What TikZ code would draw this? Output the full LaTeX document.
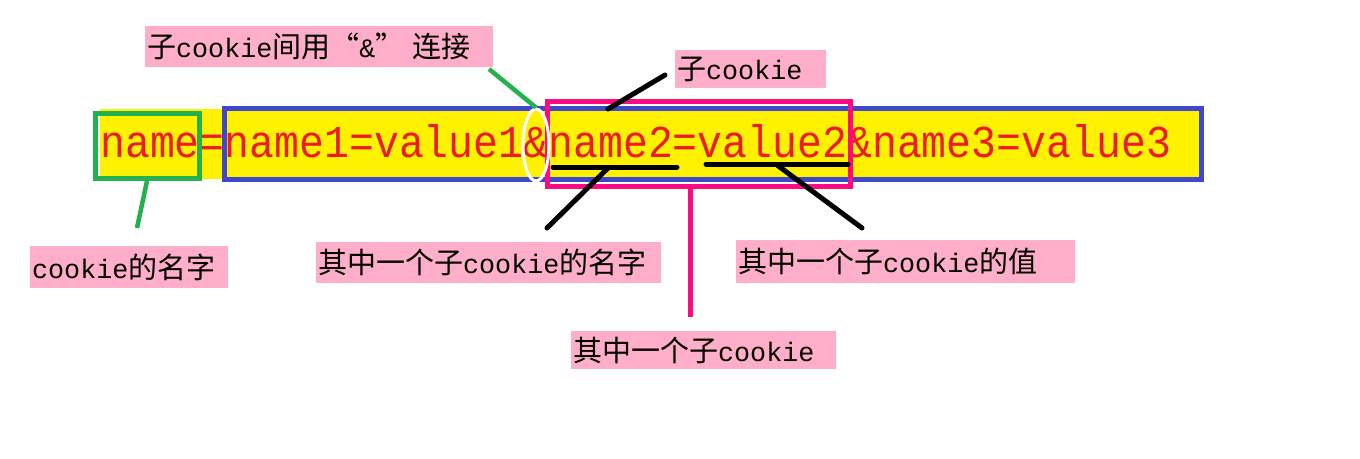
\documentclass[tikz,border=0pt]{standalone}
\usepackage{fontspec}
\usetikzlibrary{shapes.geometric}
\newfontfamily\cjk{Noto Sans CJK SC}
\newfontfamily\mono{Liberation Mono}
\definecolor{paintred}{HTML}{ED1C24}
\definecolor{hlyellow}{HTML}{FFF200}
\definecolor{paintblue}{HTML}{3F48CC}
\definecolor{paintgreen}{HTML}{22B14C}
\definecolor{hotpink}{HTML}{FF0A80}
\definecolor{rosepink}{HTML}{FFAEC9}
\newcommand\zh[1]{{\cjk\fontsize{29}{32}\selectfont #1}}
\newcommand\en[1]{{\mono\fontsize{26.7}{32}\selectfont #1}}
\tikzset{
	lbl/.style={fill=rosepink, anchor=north west, inner xsep=2pt, inner ysep=0pt, align=left},
	hibox/.style={draw=#1, line width=5pt, inner sep=0pt},
	gline/.style={draw=paintgreen, line width=4.5pt},
	bline/.style={draw=black, line width=5pt, line cap=round},
	mline/.style={draw=hotpink, line width=5pt},
}
\begin{document}
\begin{tikzpicture}[x=1pt,y=-1pt]
	\useasboundingbox [fill=white] (0,0) rectangle (1360,458);
	\fill [hlyellow] (100,109) rectangle (1200,179);
	\node [anchor=base west, inner sep=0pt, text=paintred, font=\mono\fontsize{41.5}{45}\selectfont] (str) at (100,157)
		{\scalebox{1}[1.1]{name=name1=value1\&name2=value2\&name3=value3}};
	\node [hibox=paintgreen, minimum width=104pt, minimum height=65.5pt] (nameBox) at (147,145.75) {};
	\node [hibox=paintblue, minimum width=977pt, minimum height=71pt] (valBox) at (713,144) {};
	\node [hibox=hotpink, minimum width=303.5pt, minimum height=84.5pt] (subFrame) at (698.75,143.75) {};
	\node [draw=white, line width=3pt, ellipse, minimum width=26pt, minimum height=72pt, inner sep=0pt] (ampRing) at (536,145) {};
	\draw [bline] (553,167) -- (677,167);
	\draw [bline] (706,164) -- (848,164);

	\node [lbl, text width=344pt, minimum height=41pt] (lblAmp) at (145,26)
		{\zh{子}\en{cookie}\zh{间用“}\en{\&}\zh{”\hspace{8pt}连接}};
	\node [lbl, text width=147pt, minimum height=38pt] (lblSub) at (675,50) {\zh{子}\en{cookie}};
	\node [lbl, text width=194pt, minimum height=42pt] (lblName) at (30,246) {\en{cookie}\zh{的名字}};
	\node [lbl, text width=341pt, minimum height=41pt] (lblSubName) at (316,242) {\zh{其中一个子}\en{cookie}\zh{的名字}};
	\node [lbl, text width=335pt, minimum height=43pt] (lblSubVal) at (736,240) {\zh{其中一个子}\en{cookie}\zh{的值}};
	\node [lbl, text width=261pt, minimum height=38pt] (lblSubCookie) at (571,331) {\zh{其中一个子}\en{cookie}};

	\coordinate (ampTip) at (489,69);
	\coordinate (nameTip) at (137,228);
	\coordinate (subTip) at (665,75);
	\coordinate (subEnd) at (608,109);
	\coordinate (n2Mid) at (608,168);
	\coordinate (n2Tip) at (547,228);
	\coordinate (v2Mid) at (777,165);
	\coordinate (v2Tip) at (862,228);
	\coordinate (subTail) at (690,317);
	\draw [gline] (ampTip) -- (ampRing.north);
	\draw [gline] (nameBox.south) -- (nameTip);
	\draw [bline] (subTip) -- (subEnd);
	\draw [bline] (n2Mid) -- (n2Tip);
	\draw [bline] (v2Mid) -- (v2Tip);
	\draw [mline] (subFrame.south -| subTail) -- (subTail);
\end{tikzpicture}
\end{document}
